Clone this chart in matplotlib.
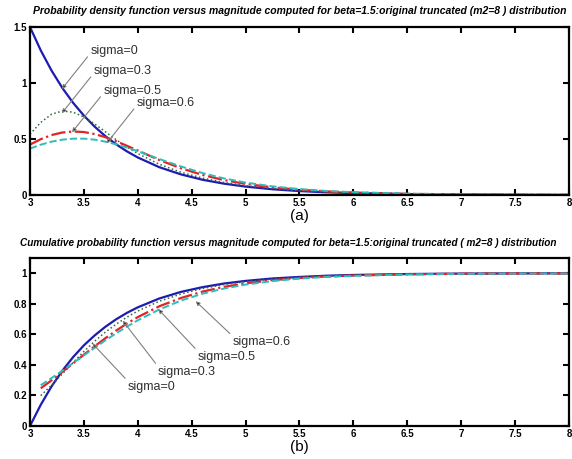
import numpy as np
import matplotlib
matplotlib.use("Agg")
import matplotlib.pyplot as plt
from matplotlib.ticker import FormatStrFormatter

plt.rcParams['font.family'] = ['Liberation Sans', 'DejaVu Sans']

# magnitude grid
mag = [3.0, 3.1, 3.2, 3.3, 3.4, 3.5, 3.6, 3.7, 3.8, 3.9, 4.0,
       4.2, 4.4, 4.6, 4.8, 5.0, 5.25, 5.5, 5.75, 6.0, 6.5, 7.0, 7.5, 8.0]

# (a) probability density
pdf_s0 = [1.5, 1.291, 1.111, 0.956, 0.823, 0.709, 0.610, 0.525, 0.452, 0.389, 0.335,
          0.248, 0.184, 0.136, 0.101, 0.075, 0.051, 0.035, 0.024, 0.017, 0.008, 0.004, 0.002, 0.001]
pdf_s03 = [0.542, 0.648, 0.721, 0.750, 0.739, 0.697, 0.634, 0.564, 0.493, 0.428, 0.370,
           0.274, 0.203, 0.151, 0.112, 0.083, 0.057, 0.039, 0.027, 0.018, 0.009, 0.004, 0.002, 0.001]
pdf_s05 = [0.450, 0.498, 0.535, 0.558, 0.567, 0.562, 0.544, 0.516, 0.480, 0.439, 0.397,
           0.312, 0.239, 0.179, 0.133, 0.099, 0.068, 0.047, 0.032, 0.022, 0.010, 0.005, 0.002, 0.001]
pdf_s06 = [0.414, 0.449, 0.476, 0.494, 0.503, 0.503, 0.494, 0.476, 0.452, 0.423, 0.391,
           0.321, 0.255, 0.196, 0.148, 0.111, 0.077, 0.053, 0.036, 0.025, 0.012, 0.006, 0.003, 0.001]

# (b) cumulative probability; curves with error start at 3.1
cdf_s0 = [0.0, 0.139, 0.259, 0.362, 0.451, 0.528, 0.593, 0.650, 0.699, 0.741, 0.777,
          0.835, 0.878, 0.909, 0.933, 0.950, 0.966, 0.976, 0.984, 0.989, 0.995, 0.998, 0.999, 1.0]
mag_err = mag[1:]
cdf_s03 = [0.199, 0.267, 0.341, 0.416, 0.488, 0.555, 0.615, 0.667, 0.713, 0.753,
           0.817, 0.864, 0.900, 0.926, 0.945, 0.962, 0.974, 0.982, 0.988, 0.994, 0.997, 0.999, 0.999]
cdf_s05 = [0.247, 0.299, 0.354, 0.410, 0.467, 0.522, 0.575, 0.625, 0.671, 0.713,
           0.784, 0.838, 0.880, 0.911, 0.934, 0.955, 0.969, 0.979, 0.985, 0.993, 0.997, 0.999, 0.999]
cdf_s06 = [0.267, 0.314, 0.362, 0.412, 0.462, 0.512, 0.561, 0.607, 0.651, 0.692,
           0.763, 0.821, 0.866, 0.900, 0.926, 0.949, 0.965, 0.976, 0.983, 0.992, 0.996, 0.998, 0.999]

labels = ["sigma=0", "sigma=0.3", "sigma=0.5", "sigma=0.6"]
x_ticks = [3, 3.5, 4, 4.5, 5, 5.5, 6, 6.5, 7, 7.5, 8]

blue, green, red, cyan = "#1c1cb0", "#2f6a3a", "#e02424", "#2ebcbc"


def style_axes(ax, yticks):
    ax.set_xlim(3, 8)
    ax.set_xticks(x_ticks)
    ax.set_yticks(yticks)
    ax.xaxis.set_major_formatter(FormatStrFormatter('%g'))
    ax.yaxis.set_major_formatter(FormatStrFormatter('%g'))
    ax.tick_params(direction="in", length=4, width=1.5, top=True, right=True,
                   labelsize=7, pad=2)
    for lab in ax.get_xticklabels() + ax.get_yticklabels():
        lab.set_fontweight("bold")
    for sp in ax.spines.values():
        sp.set_linewidth(1.6)


fig = plt.figure(figsize=(5.72, 4.59), dpi=100)
ax1 = fig.add_axes([0.0524, 0.5752, 0.9423, 0.366])
ax2 = fig.add_axes([0.0524, 0.0719, 0.9423, 0.366])

# top panel: density
ax1.plot(mag, pdf_s0, "-", color=blue, lw=1.6)
ax1.plot(mag, pdf_s03, ":", color=green, lw=1.1)
ax1.plot(mag, pdf_s05, "-.", color=red, lw=1.6)
ax1.plot(mag, pdf_s06, "--", color=cyan, lw=1.4)
ax1.set_ylim(0, 1.5)
style_axes(ax1, [0, 0.5, 1, 1.5])
ax1.set_title("Probability density function versus magnitude computed for beta=1.5:original truncated (m2=8 ) distribution",
              fontsize=7.5, fontweight="bold", style="italic", pad=9)
ax1.set_xlabel("(a)", fontsize=11, labelpad=1)

arrow = dict(arrowstyle="-|>", ec="#808080", fc="black", lw=0.8, mutation_scale=6, shrinkA=0, shrinkB=0)
top_targets = [(3.296, 0.946), (3.296, 0.73), (3.39, 0.56), (3.71, 0.46)]
top_texts = [(3.56, 1.286), (3.59, 1.107), (3.68, 0.929), (3.99, 0.821)]
for lab, xy, xyt in zip(labels, top_targets, top_texts):
    ax1.annotate(lab, xy=xy, xytext=xyt, fontsize=9, ha="left", va="center", color="#303030",
                 arrowprops=dict(arrow, relpos=(0, 0.3)))

# bottom panel: cumulative
ax2.plot(mag, cdf_s0, "-", color=blue, lw=1.6)
ax2.plot(mag_err, cdf_s03, ":", color=green, lw=1.1)
ax2.plot(mag_err, cdf_s05, "-.", color=red, lw=1.6)
ax2.plot(mag_err, cdf_s06, "--", color=cyan, lw=1.4)
ax2.set_ylim(0, 1.1)
style_axes(ax2, [0, 0.2, 0.4, 0.6, 0.8, 1])
ax2.set_title("Cumulative probability function versus magnitude computed for beta=1.5:original truncated ( m2=8 ) distribution",
              fontsize=7.2, fontweight="bold", style="italic", pad=9, x=0.48)
ax2.set_xlabel("(b)", fontsize=11, labelpad=1)

bot_targets = [(3.58, 0.54), (3.86, 0.69), (4.19, 0.765), (4.537, 0.817)]
bot_texts = [(3.907, 0.255), (4.185, 0.353), (4.556, 0.451), (4.88, 0.549)]
for lab, xy, xyt in zip(labels, bot_targets, bot_texts):
    ax2.annotate(lab, xy=xy, xytext=xyt, fontsize=9, ha="left", va="center", color="#303030",
                 arrowprops=dict(arrow, relpos=(0, 1)))

fig.savefig("out.png", dpi=100)
